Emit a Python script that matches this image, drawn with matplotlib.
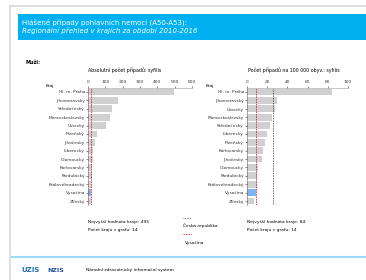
import matplotlib
matplotlib.use("Agg")
import matplotlib.pyplot as plt
from matplotlib.patches import Rectangle
from matplotlib.lines import Line2D

W, H = 366, 280

# ---- data ----
regions_abs = ["Hl. m. Praha", "Jihomoravský", "Středočeský", "Moravskoslezský", "Ústecký",
               "Plzeňský", "Jihočeský", "Liberecký", "Olomoucký", "Karlovarský",
               "Pardubický", "Královéhradecký", "Vysočina", "Zlínský"]
values_abs = [495, 175, 140, 125, 105, 50, 40, 30, 28, 25, 22, 20, 18, 15]

regions_rate = ["Hl. m. Praha", "Jihomoravský", "Ústecký", "Moravskoslezský", "Středočeský",
                "Liberecký", "Plzeňský", "Karlovarský", "Jihočeský", "Olomoucký",
                "Pardubický", "Královéhradecký", "Vysočina", "Zlínský"]
values_rate = [84, 30, 28, 25, 23, 20, 18, 16, 15, 11, 10, 10, 9, 7]

cr_rate = 25.5
selected = "Vysočina"
ticks_abs = [0, 100, 200, 300, 400, 500, 600]
ticks_rate = [0, 20, 40, 60, 80, 100]

fig = plt.figure(figsize=(W / 100, H / 100), dpi=100)
fig.patch.set_facecolor("white")

def fx(px):
    return px / W

def fy(py):
    return 1 - py / H

def add_axes_px(x0, y0, x1, y1):
    return fig.add_axes([fx(x0), fy(y1), fx(x1) - fx(x0), fy(y0) - fy(y1)])

# frame of the page
bg = fig.add_axes([0, 0, 1, 1])
bg.set_xlim(0, W)
bg.set_ylim(H, 0)
bg.axis("off")
bg.add_line(Line2D([10, 366], [6, 6], color="#d8d8d8", lw=1.2))
bg.add_line(Line2D([10, 10], [6, 280], color="#d8d8d8", lw=1.2))
bg.add_patch(Rectangle((18, 14), 350, 26, color="#00b0f0", lw=0))
bg.text(22, 22.5, "Hlášené případy pohlavních nemocí (A50-A53):", color="white",
        fontsize=5.0, va="center", ha="left")
bg.text(22, 31, "Regionální přehled v krajích za období 2010-2016", color="white",
        fontsize=5.0, va="center", ha="left", style="italic")
bg.text(25, 62, "Muži:", fontsize=3.6, fontweight="bold", va="center")
bg.text(88, 70, "Absolutní počet případů: syfilis", fontsize=3.4, ha="left", va="center")
bg.text(248, 70, "Počet případů na 100 000 obyv.: syfilis", fontsize=3.4, ha="left", va="center")

# separator and footer
bg.add_line(Line2D([12, 366], [257, 257], color="#9ddcf8", lw=1.5))
bg.text(21, 270, "ÚZIS", fontsize=5, color="#1f6fb5", fontweight="bold", va="center")
bg.text(47, 270, "NZIS", fontsize=4.5, color="#1f4f9f", fontweight="bold", va="center")
bg.text(86, 270, "Národní zdravotnický informační systém", fontsize=3.2, va="center")

# bottom annotations
bg.text(88, 222, "Nejvyšší hodnota kraje: 495", fontsize=3.2, va="center")
bg.text(88, 230, "Počet krajů v grafu: 14", fontsize=3.2, va="center")
bg.text(247, 222, "Nejvyšší hodnota kraje: 84", fontsize=3.2, va="center")
bg.text(247, 230, "Počet krajů v grafu: 14", fontsize=3.2, va="center")
bg.add_line(Line2D([183, 191], [218, 218], color="#555555", lw=0.6, ls=(0, (1, 1))))
bg.text(183, 226, "Česká republika", fontsize=3.2, va="center")
bg.add_line(Line2D([183, 191], [234, 234], color="#e03030", lw=0.6, ls=(0, (2, 1))))
bg.text(185, 243, "Vysočina", fontsize=3.2, va="center")

def panel(x0, x1, regions, values, ticks, ref_sel, ref_cr=None):
    ax = add_axes_px(x0, 87.8, x1, 205.2)
    n = len(regions)
    ys = list(range(n))
    colors = ["#7fb2f0" if r == selected else "#d0d0d0" for r in regions]
    ax.barh(ys, values, height=0.8, color=colors, edgecolor="none")
    ax.set_ylim(n - 0.5, -0.5)
    ax.set_xlim(ticks[0], ticks[-1])
    ax.set_yticks(ys)
    ax.set_yticklabels(regions, fontsize=3.2)
    ax.set_xticks(ticks)
    ax.set_xticklabels([str(t) for t in ticks], fontsize=3.2)
    ax.xaxis.tick_top()
    ax.tick_params(axis="x", length=1.5, width=0.4, pad=1.5, colors="#333333")
    ax.tick_params(axis="y", length=1.2, width=0.4, pad=1, colors="#333333")
    for s in ["right", "bottom"]:
        ax.spines[s].set_visible(False)
    ax.spines["top"].set_linewidth(0.4)
    ax.spines["top"].set_color("#999999")
    ax.spines["left"].set_linewidth(0.4)
    ax.spines["left"].set_color("#666666")
    ax.axvline(ref_sel, color="#e03030", lw=0.6, ls=(0, (2, 1)))
    if ref_cr is not None:
        ax.axvline(ref_cr, color="#333333", lw=0.6, ls=(0, (1, 1)))
    ax.text(-0.37, 1.0, "Kraj", transform=ax.transAxes, fontsize=3.2,
            ha="center", va="bottom")
    return ax

panel(88, 192, regions_abs, values_abs, ticks_abs, values_abs[regions_abs.index(selected)])
panel(247, 348, regions_rate, values_rate, ticks_rate,
      values_rate[regions_rate.index(selected)], cr_rate)

fig.savefig("out.png", dpi=100)
